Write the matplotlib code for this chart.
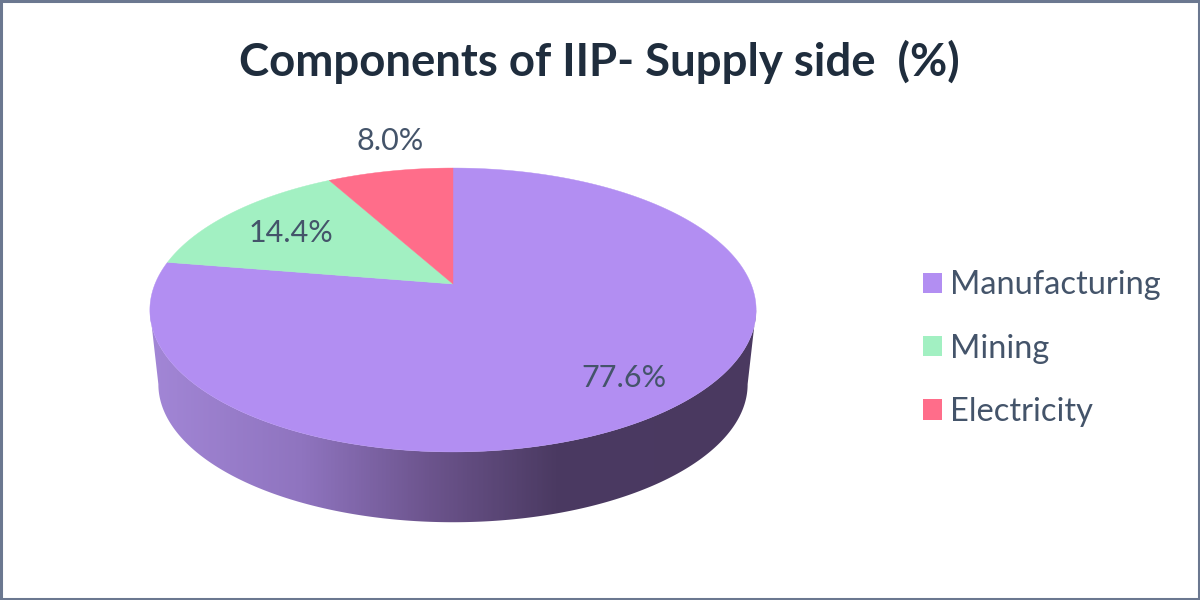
import numpy as np
import matplotlib
matplotlib.use("Agg")
import matplotlib.pyplot as plt
from matplotlib.colors import LinearSegmentedColormap
from matplotlib.patches import Patch, Polygon, Rectangle

categories = ["Manufacturing", "Mining", "Electricity"]
values = [77.6, 14.4, 8.0]
colors = ["#B28EF2", "#A2F0C2", "#FF6D8A"]
title = "Components of IIP- Supply side  (%)"

# perspective disc, all in pixels of the 1200x600 figure
CX, CY = 453, 284
A, H, K = 298, 137.2, 0.183
DEPTH = 70
TXT = "#44546A"

plt.rcParams["font.family"] = ["Lato", "DejaVu Sans"]


def disc(t, scale=1.0, dy=0.0):
    # t is the clockwise angle from 12 o'clock
    u, v = np.sin(t), np.cos(t)
    w = 1 + K * v
    return CX + scale * A * u / w, CY + dy - scale * H * v / w


fig = plt.figure(figsize=(12, 6), dpi=100)
ax = fig.add_axes([0, 0, 1, 1])
ax.set_xlim(0, 1200)
ax.set_ylim(600, 0)
ax.axis("off")

# side wall: gradient clipped to the region under the top face
t = np.linspace(0, 2 * np.pi, 721)
x_top, y_top = disc(t)
x_bot, y_bot = disc(t, 0.972, DEPTH + 5)
left = np.argmin(x_top[180:540]) + 180
right = np.argmax(x_top[:360])
low = np.arange(right, left + 1)
wall = np.concatenate([np.c_[x_top[low], y_top[low]], np.c_[x_bot[low][::-1], y_bot[low][::-1]]])
wall_patch = Polygon(wall, closed=True, fc="none", ec="none")
ax.add_patch(wall_patch)
cmap = LinearSegmentedColormap.from_list("side", [
    (0.0, "#A286D6"), (0.25, "#8F74BF"), (0.46, "#6C548D"),
    (0.67, "#4B3A62"), (1.0, "#4A3960")])
img = ax.imshow(np.linspace(0, 1, 400)[None, :], cmap=cmap, extent=(150, 757, 530, 300),
                aspect="auto", zorder=1)
img.set_clip_path(wall_patch)
ax.set_xlim(0, 1200)
ax.set_ylim(600, 0)

# top face
start = 0.0
for val, col in zip(values, colors):
    stop = start + val / sum(values) * 2 * np.pi
    ang = np.linspace(start, stop, 300)
    px, py = disc(ang)
    ax.add_patch(Polygon(np.c_[np.r_[CX, px], np.r_[CY, py]], closed=True,
                         fc=col, ec=col, lw=0.3, zorder=2))
    start = stop

ax.text(599, 62, title, fontsize=32.8, fontweight="bold", color="#1F2D3D",
        ha="center", va="center")
ax.text(624, 378, f"{values[0]:.1f}%", fontsize=22, color=TXT, ha="center", va="center", zorder=3)
ax.text(291, 233, f"{values[1]:.1f}%", fontsize=22, color=TXT, ha="center", va="center", zorder=3)
ax.text(390, 141, f"{values[2]:.1f}%", fontsize=22, color=TXT, ha="center", va="center", zorder=3)

handles = [Patch(fc=c, ec="none") for c in colors]
ax.legend(handles, categories, loc="center left", bbox_to_anchor=(0.769, 0.419), frameon=False,
          fontsize=23.5, labelcolor=TXT, handlelength=0.58, handleheight=0.58,
          handletextpad=0.26, labelspacing=1.02, borderpad=0, borderaxespad=0)

ax.add_patch(Rectangle((1, 1), 1197.5, 597.5, fc="none", ec="#6B7890", lw=2.2, zorder=5))

fig.savefig("out.png", dpi=100)
